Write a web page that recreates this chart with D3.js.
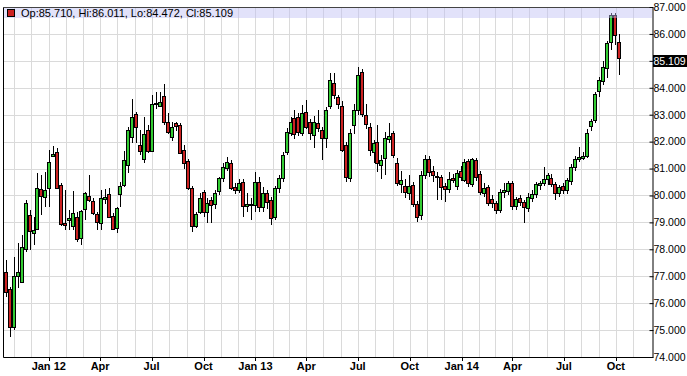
<!DOCTYPE html>
<html lang="en">
<head>
    <meta charset="UTF-8">
    <title>Weekly candles</title>
    <script src="https://cdn.jsdelivr.net/npm/d3@7"></script>
    <style>
        body {margin: 0; background: #fff;}
        svg {display: block; font-family: "Liberation Sans", Arial, sans-serif;}
    </style>
</head>
<body>
<div id="graf"></div>
<script>
    // weekly bars, first one on this Monday
    let firstWeek = "2011-10-17";

    let open = [
        77.17, 76.51, 75.12, 77.00, 76.80, 78.00, 79.27, 78.62, 78.74, 80.23,
        79.95, 80.26, 81.47, 81.63, 80.39, 78.96, 79.10, 78.86, 79.19, 78.41,
        79.50, 79.98, 79.81, 79.30, 78.96, 79.86, 80.05, 79.24, 78.78, 80.04,
        80.39, 81.13, 82.16, 83.02, 81.86, 81.37, 82.43, 81.66, 83.40, 83.32,
        83.69, 82.74, 82.18, 82.68, 82.62, 81.69, 81.28, 80.26, 78.88, 79.40,
        80.14, 79.40, 79.83, 79.68, 80.17, 80.64, 81.01, 81.19, 80.33, 80.20,
        80.51, 79.62, 79.66, 79.64, 80.51, 79.58, 80.08, 79.83, 79.21, 80.26,
        80.64, 81.63, 82.31, 82.86, 82.90, 82.31, 83.11, 82.74, 82.25, 82.70,
        82.43, 82.12, 83.32, 84.19, 83.64, 83.32, 81.87, 80.64, 82.62, 83.17,
        84.60, 82.99, 82.55, 81.60, 82.00, 81.13, 81.38, 82.10, 82.31, 81.19,
        80.42, 80.35, 80.08, 80.39, 79.68, 79.27, 80.76, 81.34, 80.92, 80.67,
        80.67, 80.35, 80.23, 80.66, 80.35, 80.91, 80.57, 81.28, 80.42, 81.32,
        80.80, 80.08, 80.30, 79.86, 79.71, 79.46, 80.14, 80.18, 80.45, 79.61,
        79.89, 79.77, 79.52, 79.89, 80.05, 80.39, 80.45, 80.61, 80.64, 80.41,
        80.08, 80.35, 80.20, 80.55, 81.04, 81.34, 81.38, 81.47, 82.58, 82.80,
        83.89, 84.26, 84.72, 85.71, 86.70, 85.710
    ];
    let high = [
        77.60, 76.61, 77.73, 78.22, 78.53, 79.83, 79.46, 79.21, 80.82, 80.76,
        80.88, 81.69, 81.84, 81.75, 80.45, 80.20, 79.46, 80.18, 79.40, 79.46,
        80.14, 80.76, 79.90, 79.40, 80.20, 80.25, 80.26, 79.35, 79.58, 80.51,
        81.66, 82.55, 83.57, 83.11, 82.43, 82.93, 82.62, 83.73, 83.85, 83.85,
        84.14, 83.05, 82.74, 82.74, 82.70, 81.87, 81.35, 80.35, 79.40, 80.08,
        80.20, 79.90, 79.95, 80.20, 80.70, 81.20, 81.44, 81.30, 80.45, 80.60,
        80.60, 80.10, 79.90, 80.88, 80.70, 80.30, 80.20, 79.95, 80.35, 80.75,
        81.60, 82.50, 82.90, 83.17, 83.05, 83.36, 83.55, 82.85, 82.95, 83.17,
        82.55, 83.30, 84.54, 84.54, 83.75, 83.50, 82.00, 82.45, 83.40, 84.78,
        84.70, 83.40, 82.70, 82.05, 82.60, 81.50, 82.37, 82.68, 82.40, 81.38,
        80.90, 80.60, 80.76, 80.50, 79.80, 80.90, 81.50, 81.45, 81.10, 80.88,
        80.75, 80.45, 80.88, 80.80, 80.95, 81.10, 81.35, 81.35, 81.40, 81.40,
        80.90, 80.45, 80.40, 80.00, 79.80, 80.25, 80.45, 80.55, 80.55, 79.95,
        80.00, 79.85, 80.10, 80.20, 80.50, 80.55, 81.07, 80.85, 80.80, 80.50,
        80.40, 80.45, 80.65, 81.15, 81.45, 81.81, 81.60, 82.45, 82.85, 83.85,
        84.40, 85.00, 85.75, 86.76, 86.76, 86.011
    ];
    let low = [
        76.24, 74.75, 75.00, 76.55, 76.73, 77.91, 77.97, 78.16, 78.72, 79.27,
        79.58, 79.58, 81.44, 80.23, 78.86, 78.72, 78.72, 78.72, 78.28, 78.16,
        79.09, 79.77, 79.27, 78.72, 78.72, 79.70, 79.15, 78.72, 78.62, 79.58,
        80.33, 80.82, 81.94, 81.94, 81.50, 81.20, 81.56, 81.63, 83.20, 83.30,
        82.62, 82.30, 82.03, 82.40, 81.55, 81.00, 80.20, 78.65, 78.78, 79.30,
        79.20, 78.96, 78.96, 79.50, 80.00, 80.50, 80.90, 80.20, 80.05, 80.10,
        79.21, 79.40, 79.10, 79.40, 79.40, 79.40, 79.50, 78.90, 79.10, 80.10,
        80.50, 81.50, 82.20, 82.10, 82.20, 82.20, 82.45, 82.05, 81.75, 82.35,
        81.32, 81.75, 83.20, 83.60, 83.20, 81.60, 80.51, 80.51, 82.30, 83.00,
        82.90, 82.45, 81.45, 81.20, 80.88, 80.60, 80.76, 81.95, 81.40, 80.35,
        80.10, 79.90, 79.83, 79.58, 79.03, 79.10, 80.60, 80.70, 80.50, 79.83,
        79.83, 79.77, 80.10, 80.45, 80.20, 80.55, 80.50, 80.30, 80.30, 80.55,
        80.00, 79.95, 79.60, 79.55, 79.30, 79.35, 79.90, 80.00, 79.45, 79.45,
        79.60, 78.96, 79.40, 79.75, 79.90, 80.20, 80.35, 80.40, 80.30, 79.83,
        79.95, 80.05, 80.05, 80.40, 80.90, 81.25, 81.30, 81.40, 82.40, 82.70,
        83.67, 84.10, 84.35, 85.40, 85.59, 84.472
    ];
    let close = [
        76.40, 75.10, 77.01, 77.15, 78.10, 79.73, 78.69, 78.70, 80.26, 79.98,
        80.20, 81.25, 81.53, 80.26, 78.94, 78.90, 79.15, 79.36, 78.37, 79.42,
        80.08, 79.83, 79.36, 79.03, 79.89, 79.93, 79.21, 78.74, 79.52, 80.35,
        81.32, 82.43, 82.90, 82.53, 81.64, 82.28, 81.65, 83.40, 83.42, 83.48,
        82.72, 82.37, 82.55, 82.59, 81.59, 81.22, 80.26, 78.86, 79.33, 79.90,
        79.40, 79.71, 79.64, 80.08, 80.64, 81.07, 81.25, 80.26, 80.20, 80.45,
        79.61, 79.70, 79.70, 80.51, 79.58, 80.08, 79.77, 79.15, 80.26, 80.64,
        81.50, 82.37, 82.74, 82.28, 82.37, 83.05, 82.56, 82.33, 82.74, 82.49,
        82.15, 83.17, 84.29, 83.73, 83.40, 81.69, 80.70, 82.33, 83.17, 84.47,
        83.01, 82.65, 81.69, 81.94, 81.19, 81.32, 82.12, 82.20, 81.50, 80.45,
        80.57, 80.14, 80.35, 79.68, 79.21, 80.76, 81.34, 80.88, 80.76, 80.72,
        80.33, 80.23, 80.60, 80.57, 80.82, 80.67, 81.25, 80.45, 81.34, 80.70,
        80.14, 80.26, 79.71, 79.73, 79.46, 80.14, 80.20, 80.45, 79.61, 79.86,
        79.77, 79.56, 79.93, 80.05, 80.41, 80.45, 80.61, 80.76, 80.41, 80.08,
        80.30, 80.20, 80.57, 81.07, 81.34, 81.44, 81.47, 82.33, 82.78, 83.76,
        84.29, 84.76, 85.68, 86.70, 85.96, 85.109
    ];

    let yTicks = [74, 75, 76, 77, 78, 79, 80, 81, 82, 83, 84, 85, 86, 87];
    let xTickDates = ["2012-01-01", "2012-04-01", "2012-07-01", "2012-10-01",
        "2013-01-01", "2013-04-01", "2013-07-01", "2013-10-01",
        "2014-01-01", "2014-04-01", "2014-07-01", "2014-10-01"];
    let xTickLabels = ["Jan 12", "Apr", "Jul", "Oct", "Jan 13", "Apr", "Jul", "Oct",
        "Jan 14", "Apr", "Jul", "Oct"];
    let legendText = "Op:85.710, Hi:86.011, Lo:84.472, Cl:85.109";
    let lastClose = 85.109;

    let width = 687, height = 376;
    let plot = {left: 3, right: 652, top: 7, bottom: 357};
    let green = "#33cc33", red = "#cc2222";
    let labelSize = "10.5px";

    let parse = d3.utcParse("%Y-%m-%d");
    let start = parse(firstWeek);
    let data = open.map(function(o, i) {
        return {date: d3.utcMonday.offset(start, i), o: o, h: high[i], l: low[i], c: close[i]};
    });

    let svg = d3.select("#graf")
        .append("svg")
        .attr("width", width)
        .attr("height", height);

    let x = d3.scaleUtc()
        .domain([parse("2011-10-12"), parse("2014-12-04")])
        .range([plot.left, plot.right]);
    let y = d3.scaleLinear()
        .domain([74, 87])
        .range([plot.bottom, plot.top]);

    function px(v) { return Math.round(v) + 0.5; }

    // grid
    let grid = svg.append("g").attr("stroke", "#dadada").attr("stroke-width", 1);
    grid.selectAll(".hg").data(yTicks).enter().append("line")
        .attr("x1", plot.left).attr("x2", plot.right)
        .attr("y1", function(d) { return px(y(d)); })
        .attr("y2", function(d) { return px(y(d)); });
    grid.selectAll(".vg").data(d3.utcMonth.range(parse("2011-11-01"), parse("2014-12-01"))).enter().append("line")
        .attr("y1", plot.top).attr("y2", plot.bottom)
        .attr("x1", function(d) { return px(x(d)); })
        .attr("x2", function(d) { return px(x(d)); });

    // candles
    let candles = svg.append("g").selectAll("g").data(data).enter().append("g");
    candles.append("line")
        .attr("stroke", "#000")
        .attr("x1", function(d) { return Math.round(x(d.date)) + 0.5; })
        .attr("x2", function(d) { return Math.round(x(d.date)) + 0.5; })
        .attr("y1", function(d) { return Math.round(y(d.h)); })
        .attr("y2", function(d) { return Math.round(y(d.l)); });
    candles.append("rect")
        .attr("x", function(d) { return Math.round(x(d.date)) - 1.5; })
        .attr("width", 3)
        .attr("y", function(d) { return Math.round(y(Math.max(d.o, d.c))) + 0.5; })
        .attr("height", function(d) { return Math.max(1, Math.round(y(Math.min(d.o, d.c))) - Math.round(y(Math.max(d.o, d.c)))); })
        .attr("fill", function(d) { return d.c >= d.o ? green : red; })
        .attr("stroke", "#000")
        .attr("stroke-width", 1);

    // header band with legend
    svg.append("rect")
        .attr("x", plot.left).attr("y", plot.top)
        .attr("width", plot.right - plot.left).attr("height", 11)
        .attr("fill", "rgb(190,190,245)").attr("fill-opacity", 0.45);
    svg.append("rect")
        .attr("x", 7.5).attr("y", 9.5).attr("width", 7).attr("height", 7)
        .attr("fill", red).attr("stroke", "#000");
    svg.append("text")
        .attr("x", 21).attr("y", 17)
        .attr("font-size", "11px")
        .text(legendText);

    // frame
    svg.append("path")
        .attr("fill", "none").attr("stroke", "#000")
        .attr("d", "M" + (plot.left + 0.5) + "," + (plot.top + 0.5) + "V" + (plot.bottom + 0.5) + "H" + (plot.right + 0.5));
    svg.append("line")
        .attr("stroke", "#444")
        .attr("x1", plot.left).attr("x2", plot.right)
        .attr("y1", plot.top + 0.5).attr("y2", plot.top + 0.5);

    // right axis
    let yAxis = svg.append("g")
        .attr("transform", "translate(" + (plot.right + 0.5) + ",0)")
        .call(d3.axisRight(y).tickValues(yTicks).tickSize(1).tickSizeOuter(0).tickPadding(0)
            .tickFormat(d3.format(".3f")));
    yAxis.selectAll(".tick line").attr("x1", -3).attr("stroke", "#000");
    yAxis.select(".domain").attr("stroke", "#000");
    yAxis.selectAll("text").attr("font-size", labelSize).attr("font-family", "Liberation Sans, Arial, sans-serif").attr("fill", "#000");

    // last close marker
    let cy = y(lastClose);
    svg.append("rect")
        .attr("x", plot.right + 1).attr("y", Math.round(cy) - 3)
        .attr("width", width - plot.right).attr("height", 12)
        .attr("fill", "#000");
    svg.append("text")
        .attr("x", plot.right + 1.5).attr("y", Math.round(cy) + 7)
        .attr("font-size", labelSize).attr("fill", "#fff")
        .text(d3.format(".3f")(lastClose));

    // bottom axis labels
    let xt = svg.append("g");
    xt.selectAll("line").data(xTickDates).enter().append("line")
        .attr("stroke", "#000")
        .attr("x1", function(d) { return px(x(parse(d))); })
        .attr("x2", function(d) { return px(x(parse(d))); })
        .attr("y1", plot.bottom).attr("y2", plot.bottom + 4);
    xt.selectAll("text").data(xTickDates).enter().append("text")
        .attr("x", function(d) { return x(parse(d)); })
        .attr("y", 370)
        .attr("text-anchor", "middle")
        .attr("font-size", "11px")
        .attr("font-weight", "bold")
        .text(function(d, i) { return xTickLabels[i]; });
</script>
</body>
</html>
